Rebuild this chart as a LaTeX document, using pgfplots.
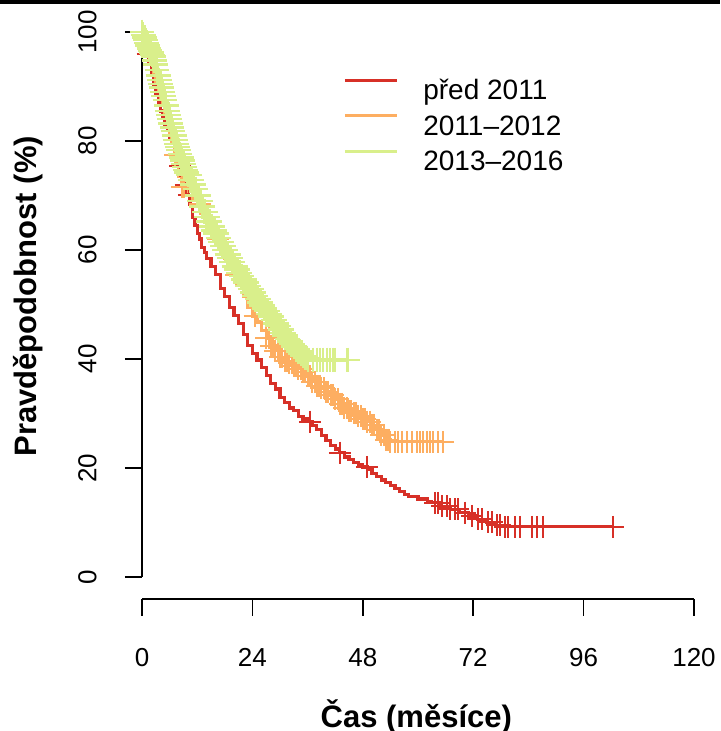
\documentclass[border=0pt]{standalone}
\usepackage{fontspec}
\setmainfont{Liberation Sans}
\usepackage{pgfplots}
\pgfplotsset{compat=1.18}
\definecolor{kmred}{HTML}{D73027}
\definecolor{kmorange}{HTML}{FDAE61}
\definecolor{kmgreen}{HTML}{D9EF8B}
\begin{document}
\begin{tikzpicture}
\useasboundingbox (-71pt,-66.1pt) rectangle (289pt,299.4pt);
\begin{axis}[
  scale only axis, width=276pt, height=294.3pt,
  xmin=0, xmax=120, ymin=-4, ymax=104,
  clip=false,
  axis x line*=bottom, axis y line*=left,
  x axis line style={draw=none}, y axis line style={draw=none},
  xtick={0,24,48,72,96,120}, ytick={0,20,40,60,80,100},
  tick align=outside, major tick length=8.5pt,
  tick style={black, line width=0.8pt},
  /pgf/number format/assume math mode=true,
  ticklabel style={font=\fontsize{13}{13}\selectfont, inner sep=0pt},
  xticklabel style={anchor=north}, xticklabel shift=16pt,
  yticklabel style={rotate=90, anchor=south}, yticklabel shift=14pt,
  xlabel={Čas (měsíce)}, ylabel={Pravděpodobnost (\%)},
  every axis x label/.style={at={(axis description cs:0.497,-0.2178)}, anchor=base,
    font=\bfseries\fontsize{15.5}{15.5}\selectfont},
  every axis y label/.style={at={(axis description cs:-0.2065,0.514)}, anchor=center, rotate=90,
    font=\bfseries\fontsize{15.5}{15.5}\selectfont},
  legend style={at={(axis description cs:0.364,0.884)}, anchor=north west,
    draw=none, fill=none, inner sep=0pt, row sep=3.75pt,
    font=\fontsize{14}{14}\selectfont,
    nodes={inner sep=0pt, text height=10pt, text depth=3.5pt},
    /tikz/every odd column/.style={column sep=12.5pt}},
  legend cell align=left,
  legend image code/.code={\draw[#1, line width=1.5pt] (0pt,6.5pt) -- (26pt,6.5pt);},
  km/.style={mark=+, mark size=5.5pt, mark options={line width=1pt}},
]

% před 2011
\addplot[const plot, color=kmred, line width=1.6pt] coordinates {
(0,100)(0.5,98)(1,96)(1.5,94)(2,92)(2.5,90)(3,88.5)(3.5,87)(4,85.5)(4.5,84.5)
(5,83)(5.5,82)(6,80.5)(6.5,79.5)(7,78)(7.5,77)(8,75.5)(8.5,74.5)(9,73)(9.5,72)
(10,70)(10.5,68)(11,66)(11.5,64.5)(12,63)(12.5,62)(13,60.5)(13.5,59.5)(14,58.5)
(15,57)(16,55.5)(17,53)(18,51.5)(19,49.5)(20,48)(21,46.5)(22,44.5)(23,42.5)(24,41)
(25,39.8)(26,38.5)(27,37)(28,35.5)(29,34.5)(30,33)(31,32)(32,31)(33,30.5)(34,29.5)
(35,29)(36,28.5)(37,27.8)(38,27)(39,26)(40,25)(41,24.2)(42,23.5)(43,22.8)(44,22)
(45,21.5)(46,21)(47,20.6)(48,20.2)(49,19.8)(50,19)(51,18.5)(52,17.8)(53,17.3)
(54,16.8)(55,16.2)(56,15.7)(57,15.2)(58,14.8)(60,14.3)(62,13.9)(63,13.6)(65,13.0)
(67,12.4)(69,11.8)(71,11.2)(73,10.6)(75,10.0)(77,9.5)(78.5,9.2)(102.4,9.2)
};
\addlegendentry{před 2011}
\addplot[only marks, color=kmred, km, forget plot] coordinates {
(0.7,98)(1.2,96)(8.3,75.5)(9.5,72)(10.2,70)(36.5,28.5)(43,22.8)(48.9,20.2)
(63.7,13.6)(64.3,13.6)(65.2,13.0)(66.3,13.0)(67,12.4)(68,12.4)(68.7,12.4)(70.2,11.8)
(71.7,11.2)(73,10.6)(73.9,10.6)(75.2,10.0)(76.1,10.0)(77.2,9.5)(77.8,9.5)(78.9,9.2)
(79.6,9.2)(81.1,9.2)(82.2,9.2)(84.8,9.2)(85.9,9.2)(87.2,9.2)(102.4,9.2)
};

% 2011-2012
\addplot[const plot, color=kmorange, line width=1.6pt] coordinates {
(0,100)(0.5,98.5)(1,97)(1.5,95.5)(2,94)(2.5,92.5)(3,91)(3.5,89.5)(4,88)(4.5,86.5)
(5,85)(5.5,83.5)(6,81.5)(6.5,79.5)(7,77.5)(7.5,75.5)(8,73.5)(8.5,71.6)(10,70.8)
(11,69.5)(12,68.5)(13,67)(14,65.5)(15,63.5)(16,62)(17,60)(18,58.5)(19,57)(20,55.5)
(21,53.5)(22,51.5)(23,49.5)(24,47.8)(25,46.8)(26,45.3)(27,43.8)(28,42.4)(29,41.5)
(30,40.3)(31,39.6)(32,39.2)(33,38.7)(34,38.2)(35,37.6)(36,36.8)(37,35.8)(38,35)
(39,34.6)(40,34)(41,33.4)(42,32.6)(43,31.8)(44,31)(45,30.5)(46,30)(47,29.5)(48,29)
(49,28.5)(50,27.8)(51,27)(52,26)(53,25.2)(54,24.8)(65.6,24.8)
};
\addlegendentry{2011–2012}
\addplot[only marks, color=kmorange, km, forget plot] coordinates {
(7.2,77.5)(8.6,71.6)(9.2,71.6)(12.5,68.5)(16.5,62)(20.5,55.5)(24.5,47.8)
(27,43.8)(27.5,43.8)(28,42.4)(28.5,42.4)(29,41.5)(29.5,41.5)(30,40.3)(30.5,40.3)
(31,39.6)(31.5,39.6)(32,39.2)(32.5,39.2)(33,38.7)(33.5,38.7)(34,38.2)(34.5,38.2)
(35,37.6)(35.5,37.6)(36,36.8)(36.5,36.8)(37,35.8)(37.5,35.8)(38,35)(38.5,35)
(39,34.6)(39.5,34.6)(40,34)(40.5,34)(41,33.4)(41.5,33.4)(42,32.6)(42.5,32.6)
(43,31.8)(43.5,31.8)(44,31)(44.5,31)(45,30.5)(45.5,30.5)(46,30)(46.5,30)
(47,29.5)(47.5,29.5)(48,29)(48.5,29)(49,28.5)(49.5,28.5)(50,27.8)(50.5,27.8)
(51,27)(51.5,27)(52,26)(52.5,26)(53,25.2)(53.5,25.2)(54,24.8)(55,24.8)(55.7,24.8)
(56.5,24.8)(57.6,24.8)(58.7,24.8)(59.8,24.8)(60.4,24.8)(61.1,24.8)(62,24.8)
(62.6,24.8)(63.3,24.8)(64.3,24.8)(65.4,24.8)
};

% 2013-2016
\addplot[const plot, color=kmgreen, line width=1.6pt, mark=+, mark size=6.2pt, mark options={line width=1.2pt}] coordinates {
(0,100)(0.25,99.5)(0.5,99)(0.75,98.5)(1,98)(1.25,97.5)(1.5,97)(1.75,96.6)(2,96.2)
(2.25,95.8)(2.5,95.5)(2.75,94.8)(3,94)(3.25,93)(3.5,92)(3.75,91.2)(4,90.5)(4.25,89.8)
(4.5,89)(4.75,88.2)(5,87.5)(5.25,86.5)(5.5,85.5)(5.75,84.8)(6,84)(6.25,83.2)(6.5,82.5)
(6.75,81.8)(7,81)(7.25,80.2)(7.5,79.5)(7.75,78.9)(8,78.3)(8.25,77.6)(8.5,77)(8.75,76.4)
(9,75.8)(9.25,75.2)(9.5,74.7)(9.75,74.2)(10,73.8)(10.5,72.8)(11,72)(11.5,71.2)(12,70)
(12.5,69)(13,68)(13.5,67)(14,66)(14.5,65.2)(15,64.3)(15.5,63.6)(16,63)(16.5,62.2)
(17,61.5)(17.5,60.7)(18,60)(18.5,59.2)(19,58.5)(19.5,57.8)(20,57)(20.5,56.4)(21,55.8)
(21.5,55.2)(22,54.6)(22.5,54)(23,53.4)(23.5,52.8)(24,52.2)(24.5,51.6)(25,51)(25.5,50.4)
(26,49.8)(26.5,49.3)(27,48.8)(27.5,48.3)(28,47.8)(28.5,47.1)(29,46.5)(29.5,46)(30,45.4)
(30.5,44.8)(31,44.3)(31.5,43.7)(32,43.2)(32.5,42.7)(33,42.3)(33.5,41.8)(34,41.4)
(34.5,41)(35,40.6)(35.5,40.2)(36.1,39.8)(37.2,39.8)(38,39.8)(38.7,39.8)(39.3,39.8)
(40.2,39.8)(40.9,39.8)(41.5,39.8)(42,39.8)(44.7,39.8)
};
\addlegendentry{2013–2016}
\addplot[only marks, color=kmgreen, mark=+, mark size=6.2pt, mark options={line width=1.2pt}, forget plot] coordinates {
(10.25,73.8)(10.75,72.8)(11.25,72)(11.75,71.2)(12.25,70)(12.75,69)(13.25,68)(13.75,67)
(14.25,66)(14.75,65.2)(15.25,64.3)(15.75,63.6)(16.25,63)(16.75,62.2)(17.25,61.5)
(17.75,60.7)(18.25,60)(18.75,59.2)(19.25,58.5)(19.75,57.8)(20.25,57)(20.75,56.4)
(21.25,55.8)(21.75,55.2)(22.25,54.6)(22.75,54)(23.25,53.4)(23.75,52.8)(24.25,52.2)
(24.75,51.6)(25.25,51)(25.75,50.4)(26.25,49.8)(26.75,49.3)(27.25,48.8)(27.75,48.3)
(28.25,47.8)(28.75,47.1)(29.25,46.5)(29.75,46)(30.25,45.4)(30.75,44.8)(31.25,44.3)
(31.75,43.7)(32.25,43.2)(32.75,42.7)(33.25,42.3)(33.75,41.8)(34.25,41.4)(34.75,41)
(35.25,40.6)(35.75,40.2)
};

% R-style axis lines, from first to last tick
\draw[line width=0.8pt] (axis cs:0,-4) -- (axis cs:120,-4);
\draw[line width=0.8pt] (axis cs:0,0) -- (axis cs:0,100);
\end{axis}
% dark strip along the top edge of the screenshot
\fill[black] (-71pt,297.4pt) rectangle (289pt,299.4pt);
\end{tikzpicture}
\end{document}
